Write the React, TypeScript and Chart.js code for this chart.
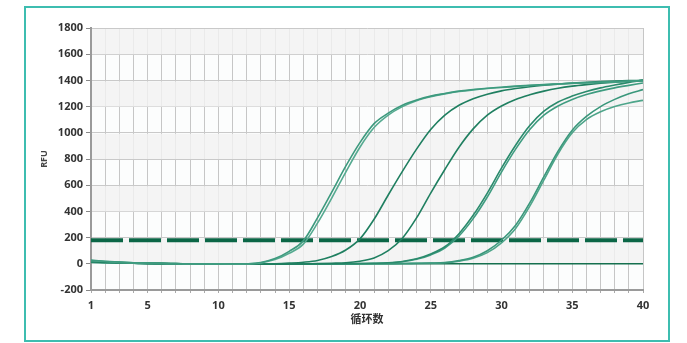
import React, { useEffect, useRef } from "react";
import { Chart, registerables } from "chart.js";

Chart.register(...registerables);

const cycles: number[] = Array.from({ length: 40 }, (_, i) => i + 1);

const yTicks = [-200, 0, 200, 400, 600, 800, 1000, 1200, 1400, 1600, 1800];
const xTickLabels = [1, 5, 10, 15, 20, 25, 30, 35, 40];
const threshold = 180;

const curveA1 = [28, 20, 13, 8, 5, 2, 1, 0, -1, -2, -2, 0, 10, 40, 95, 175, 350, 545, 745, 925, 1070, 1150, 1210, 1250, 1280, 1300, 1318, 1330, 1340, 1348, 1356, 1362, 1368, 1373, 1378, 1382, 1386, 1390, 1394, 1398];
const curveA2 = [24, 17, 11, 7, 4, 2, 0, -1, -2, -2, -3, -1, 7, 32, 80, 150, 310, 500, 700, 890, 1040, 1135, 1200, 1245, 1275, 1297, 1315, 1328, 1338, 1346, 1354, 1361, 1367, 1372, 1377, 1381, 1385, 1389, 1393, 1397];
const curveB = [20, 15, 10, 6, 3, 1, 0, -1, -2, -3, -3, -3, -2, 0, 5, 12, 25, 55, 105, 190, 340, 525, 705, 875, 1025, 1135, 1210, 1260, 1295, 1320, 1338, 1352, 1363, 1372, 1380, 1386, 1391, 1395, 1398, 1400];
const curveC = [18, 13, 9, 5, 3, 1, 0, -1, -2, -3, -3, -3, -3, -3, -2, -1, 1, 4, 8, 20, 45, 100, 195, 350, 540, 720, 890, 1030, 1135, 1205, 1255, 1290, 1318, 1340, 1356, 1368, 1378, 1386, 1393, 1398];
const curveD1 = [15, 11, 8, 5, 3, 1, 0, -1, -2, -2, -3, -3, -3, -3, -3, -2, -2, -1, 0, 2, 4, 8, 18, 38, 75, 130, 230, 370, 540, 730, 905, 1055, 1165, 1235, 1280, 1315, 1343, 1365, 1385, 1402];
const curveD2 = [12, 9, 6, 4, 2, 1, 0, -1, -1, -2, -2, -3, -3, -3, -3, -2, -2, -1, 0, 1, 3, 7, 16, 34, 68, 120, 212, 345, 510, 700, 875, 1025, 1135, 1205, 1255, 1292, 1320, 1343, 1362, 1380];
const curveE1 = [10, 8, 6, 4, 2, 1, 0, -1, -1, -2, -2, -2, -3, -3, -3, -3, -2, -2, -1, 0, 0, 1, 2, 4, 6, 10, 25, 50, 100, 180, 295, 465, 665, 860, 1020, 1125, 1200, 1255, 1298, 1330];
const curveE2 = [22, 16, 11, 7, 4, 2, 1, 0, -1, -2, -2, -2, -3, -3, -3, -3, -2, -2, -1, 0, 0, 1, 2, 3, 5, 8, 20, 42, 85, 160, 270, 440, 640, 840, 1000, 1100, 1160, 1200, 1228, 1248];
const curveNeg = [14, 11, 8, 5, 3, 2, 1, 0, 0, -1, -1, -1, -1, -1, -1, -1, -1, -1, -1, 0, 0, 0, 0, 0, 0, 0, 0, 0, 0, 0, 0, 0, 0, 0, 0, 0, 0, 0, 0, 0];

const curves = [
  { name: "A1", values: curveA1, color: "#3d9a7e" },
  { name: "A2", values: curveA2, color: "#55aa90" },
  { name: "B", values: curveB, color: "#1f7f60" },
  { name: "C", values: curveC, color: "#1f7f60" },
  { name: "D1", values: curveD1, color: "#2a8a6c" },
  { name: "D2", values: curveD2, color: "#3f9c80" },
  { name: "E1", values: curveE1, color: "#3a977b" },
  { name: "E2", values: curveE2, color: "#4ea58a" },
  { name: "NEG", values: curveNeg, color: "#15704f" },
];

const bandPlugin = {
  id: "bands",
  beforeDraw(chart: any) {
    const { ctx, chartArea } = chart;
    ctx.save();
    ctx.fillStyle = "#fcfdfd";
    ctx.fillRect(chartArea.left, chartArea.top, chartArea.right - chartArea.left, chartArea.bottom - chartArea.top);
    ctx.restore();
  },
  beforeDatasetsDraw(chart: any) {
    const { ctx, chartArea, scales } = chart;
    const y = scales.y;
    ctx.save();
    ctx.fillStyle = "rgba(242,242,242,0.82)";
    for (let v = 0; v < 1800; v += 400) {
      const top = y.getPixelForValue(v + 200);
      const bot = y.getPixelForValue(v);
      ctx.fillRect(chartArea.left + 1, top + 1, chartArea.right - chartArea.left - 1, bot - top - 1);
    }
    ctx.restore();
  },
};

export default function App() {
  const ref = useRef<HTMLCanvasElement | null>(null);

  useEffect(() => {
    if (!ref.current) return;
    const datasets: any[] = curves.map((c) => ({
      label: c.name,
      data: c.values.map((v, i) => ({ x: cycles[i], y: v })),
      borderColor: c.color,
      borderWidth: 1.6,
      pointRadius: 0,
      fill: false,
      cubicInterpolationMode: "monotone",
    }));
    datasets.push({
      label: "threshold",
      data: [
        { x: cycles[0], y: threshold },
        { x: cycles[cycles.length - 1], y: threshold },
      ],
      borderColor: "#0b6646",
      borderWidth: 4,
      borderDash: [32, 6],
      pointRadius: 0,
      fill: false,
    });

    const chart = new Chart(ref.current, {
      type: "line",
      data: { datasets },
      plugins: [bandPlugin],
      options: {
        animation: false,
        responsive: false,
        maintainAspectRatio: false,
        layout: { padding: { left: 30, right: 44, top: 28, bottom: 0 } },
        plugins: { legend: { display: false }, tooltip: { enabled: false } },
        scales: {
          x: {
            type: "linear",
            min: 1,
            max: 40,
            afterBuildTicks: (s: any) => {
              s.ticks = cycles.map((v) => ({ value: v }));
            },
            afterFit: (s: any) => {
              s.height = 53;
            },
            ticks: {
              autoSkip: false,
              maxRotation: 0,
              padding: 6,
              color: "#333",
              font: { family: "'Open Sans', sans-serif", size: 11, weight: "bold" },
              callback: (v: any) => (xTickLabels.includes(Number(v)) ? String(v) : ""),
            },
            grid: { color: "#c6c6c6", lineWidth: 1, drawTicks: true, tickLength: 3, tickColor: "#aaa" },
            border: { color: "#9a9a9a", width: 2 },
            title: {
              display: true,
              text: "循环数",
              color: "#333",
              font: { family: "'Noto Sans CJK SC', sans-serif", size: 11, weight: "bold" },
              padding: { top: 0, bottom: 18 },
            },
          },
          y: {
            type: "linear",
            min: -200,
            max: 1800,
            afterBuildTicks: (s: any) => {
              s.ticks = yTicks.map((v) => ({ value: v }));
            },
            afterFit: (s: any) => {
              s.width = 61;
            },
            ticks: {
              padding: 3,
              color: "#333",
              font: { family: "'Open Sans', sans-serif", size: 11, weight: "bold" },
              callback: (v: any) => String(v),
            },
            grid: { color: "#c9c9c9", lineWidth: 1, tickLength: 5, tickColor: "#888" },
            border: { color: "#9a9a9a", width: 2 },
            title: {
              display: true,
              text: "RFU",
              color: "#444",
              font: { family: "'Open Sans', sans-serif", size: 9, weight: "bold" },
              padding: { top: 9, bottom: 0 },
            },
          },
        },
      },
    });
    return () => chart.destroy();
  }, []);

  return (
    <div style={{ position: "absolute", left: 0, top: 0, width: 687, height: 343, background: "#ffffff" }}>
      <div
        style={{
          position: "absolute",
          left: 24,
          top: 6,
          width: 642,
          height: 332,
          border: "2px solid #3dbdb0",
        }}
      />
      <canvas ref={ref} width={687} height={343} style={{ position: "absolute", left: 0, top: 0 }} />
    </div>
  );
}
